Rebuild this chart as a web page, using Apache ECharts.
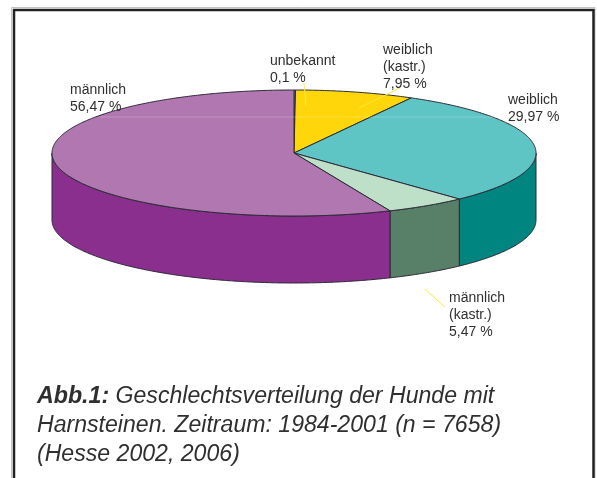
<!DOCTYPE html>
<html><head><meta charset="utf-8">
<style>html,body{margin:0;padding:0;background:#fff}#c{width:597px;height:478px}</style>
<script src="https://cdn.jsdelivr.net/npm/echarts@6/dist/echarts.min.js"></script>
</head><body><div id="c"></div>
<script>
// Data, clockwise from 12 o'clock
const categories = ['unbekannt', 'weiblich\n(kastr.)', 'weiblich', 'männlich\n(kastr.)', 'männlich'];
const shares = [0.1, 7.95, 29.97, 5.47, 56.47];
const captionLead = 'Abb.1:';
const captionLines = [' Geschlechtsverteilung der Hunde mit', 'Harnsteinen. Zeitraum: 1984-2001 (n = 7658)', '(Hesse 2002, 2006)'];

// Presentation
const topColors = ['#5fc4c4', '#ffd60a', '#5fc4c4', '#bfe0c8', '#b077b0'];
const sideColors = ['#008580', '#c9a800', '#008580', '#588068', '#8b2f8f'];
const geo = {cx: 294, cy: 153, rx: 242, ry: 63, depth: 67};
const labelAt = [[270, 53], [383, 42], [508, 92], [449, 290], [70, 82]];
const leaders = [[[304, 83], [306, 106]], [[400, 88], [359, 108]], [[425, 289], [445, 307]]];
const ink = '#2f2f2f', edge = '#2a2a35';

const total = shares.reduce((a, b) => a + b, 0);
const bounds = [0];
shares.forEach(v => bounds.push(bounds[bounds.length - 1] + v / total * 2 * Math.PI));
const pt = (a, dy) => [geo.cx + geo.rx * Math.sin(a), geo.cy - geo.ry * Math.cos(a) + (dy || 0)];
function arc(a0, a1, dy) {
  const n = Math.max(2, Math.ceil((a1 - a0) / 0.01)), out = [];
  for (let k = 0; k <= n; k++) out.push(pt(a0 + (a1 - a0) * k / n, dy));
  return out;
}
const seriesData = shares.map((v, i) => [i, v]);

const option = {
  animation: false,
  backgroundColor: '#fff',
  graphic: {elements: [
    {type: 'rect', z: 0, shape: {x: 11.5, y: 7.5, width: 583.5, height: 490}, style: {fill: 'none', stroke: '#c4c4c4', lineWidth: 1}},
    {type: 'rect', z: 1, shape: {x: 14, y: 10, width: 579.5, height: 480}, style: {fill: '#fff', stroke: '#222', lineWidth: 2.5}},
    {type: 'line', z: 20, shape: {x1: 100, y1: 117, x2: 510, y2: 117}, style: {stroke: '#fff', lineWidth: 1, opacity: 0.22}},
    ...leaders.map(l => ({type: 'line', z: 21, shape: {x1: l[0][0], y1: l[0][1], x2: l[1][0], y2: l[1][1]}, style: {stroke: '#ffe93a', lineWidth: 1}})),
    {type: 'text', z: 22, x: 37, y: 382.5, style: {
      text: '{b|' + captionLead + '}{i|' + captionLines[0] + '}\n{i|' + captionLines[1] + '}\n{i|' + captionLines[2] + '}',
      rich: {
        b: {font: 'italic bold 23.2px "Liberation Sans"', fill: ink, lineHeight: 29},
        i: {font: 'italic 23.1px "Liberation Sans"', fill: ink, lineHeight: 29}
      }
    }}
  ]},
  series: [
    {type: 'custom', coordinateSystem: 'none', z: 5, silent: true, data: seriesData,
     renderItem(p, api) {
       const i = api.value(0);
       const a0 = Math.max(bounds[i], Math.PI / 2), a1 = Math.min(bounds[i + 1], 3 * Math.PI / 2);
       if (a1 <= a0) return {type: 'group', children: []};
       return {type: 'polygon', shape: {points: arc(a0, a1, 0).concat(arc(a0, a1, geo.depth).reverse())},
         style: {fill: sideColors[i], stroke: edge, lineWidth: 1, lineJoin: 'round'}};
     }},
    {type: 'custom', coordinateSystem: 'none', z: 6, silent: true, data: seriesData,
     renderItem(p, api) {
       const i = api.value(0);
       return {type: 'polygon', shape: {points: [[geo.cx, geo.cy]].concat(arc(bounds[i], bounds[i + 1], 0))},
         style: {fill: topColors[i], stroke: edge, lineWidth: 1, lineJoin: 'round'}};
     }},
    {type: 'custom', coordinateSystem: 'none', z: 22, silent: true, data: seriesData,
     renderItem(p, api) {
       const i = api.value(0);
       const txt = categories[i] + '\n' + String(api.value(1)).replace('.', ',') + ' %';
       return {type: 'text', x: labelAt[i][0], y: labelAt[i][1],
         style: {text: txt, font: '14px "Liberation Sans"', fill: ink, lineHeight: 16.7}};
     }}
  ]
};
echarts.init(document.getElementById('c'), null, {renderer: 'canvas'}).setOption(option);
</script></body></html>
